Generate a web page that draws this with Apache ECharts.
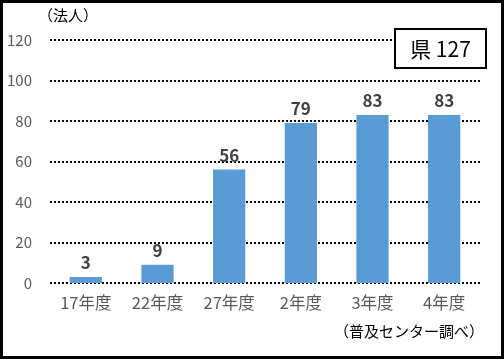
<!DOCTYPE html>
<html><head><meta charset="utf-8">
<script src="https://cdn.jsdelivr.net/npm/echarts@6/dist/echarts.min.js"></script>
<style>html,body{margin:0;padding:0;background:#fff}#c{width:504px;height:359px}</style>
</head><body><div id="c"></div>
<script>
const categories = ['17年度','22年度','27年度','2年度','3年度','4年度'];
const values = [3, 9, 56, 79, 83, 83];
const yTicks = [0, 20, 40, 60, 80, 100, 120];
const unitLabel = '（法人）';
const sourceLabel = '（普及センター調べ）';
const boxLabel = '県 127';
const font = '"Noto Sans CJK JP", "Noto Sans", sans-serif';

const chart = echarts.init(document.getElementById('c'));
chart.setOption({
  animation: false,
  backgroundColor: '#fff',
  grid: {left: 50, right: 24, top: 40, bottom: 76},
  xAxis: {
    type: 'category', data: categories,
    axisLine: {show: false}, axisTick: {show: false},
    axisLabel: {color: '#595959', fontSize: 16.5, fontFamily: font, margin: 11}
  },
  yAxis: {
    type: 'value', min: yTicks[0], max: yTicks[yTicks.length-1], interval: 20,
    axisLine: {show: false}, axisTick: {show: false},
    axisLabel: {color: '#595959', fontSize: 15, fontFamily: font, margin: 18},
    splitLine: {lineStyle: {color: '#000', type: [2, 2], width: 2}}
  },
  series: [{
    type: 'bar', data: values, barWidth: '45%',
    itemStyle: {color: '#5B9BD5'},
    label: {show: true, position: 'top', color: '#404040', fontWeight: 'bold', fontSize: 17, fontFamily: font, distance: 6}
  }],
  graphic: [
    {type: 'rect', shape: {x: 1.5, y: 1.5, width: 501, height: 356}, style: {fill: null, stroke: '#000', lineWidth: 3}, z: 100},
    {type: 'text', x: 38, y: 8, style: {text: unitLabel, fill: '#000', font: '15px ' + font}},
    {type: 'text', x: 484, y: 324, style: {text: sourceLabel, fill: '#000', font: '15px ' + font, align: 'right'}},
    {type: 'rect', z: 50, shape: {x: 395, y: 29, width: 91, height: 39}, style: {fill: '#fff', stroke: '#000', lineWidth: 2}},
    {type: 'text', z: 51, x: 440.5, y: 49, style: {text: boxLabel, fill: '#000', font: '21px ' + font, align: 'center', verticalAlign: 'middle'}}
  ]
});
</script></body></html>
